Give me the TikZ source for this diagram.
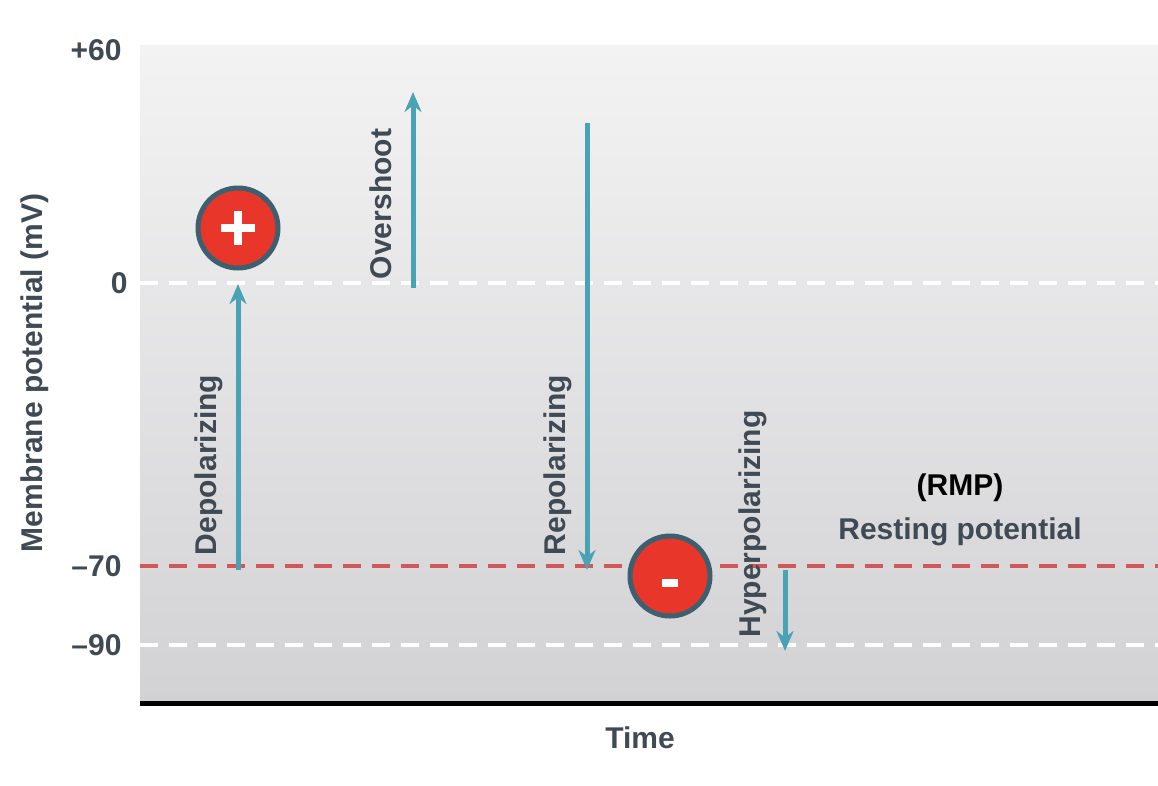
\documentclass[tikz,border=0pt]{standalone}
\usepackage{fontspec}
\setmainfont{Liberation Sans}
\usetikzlibrary{arrows.meta}
\definecolor{txt}{HTML}{3F4A55}
\definecolor{arr}{HTML}{4AA3B5}
\definecolor{rmp}{HTML}{D0585A}
\definecolor{cfill}{HTML}{E8362A}
\definecolor{cedge}{HTML}{3D6070}
\begin{document}
\begin{tikzpicture}[x=1pt,y=-1pt,
 lbl/.style={font=\fontsize{30}{34}\selectfont\bfseries,text=txt},
 tick/.style={lbl,anchor=east},
 ar/.style={draw=arr,line width=5pt,-{Stealth[length=20pt,width=17pt]}},
 sign/.style={circle,minimum size=80pt,fill=cfill,draw=cedge,line width=5pt,inner sep=0pt},
 signmark/.style={white,line width=8pt},
 dsh/.style={line width=4pt,dash pattern=on 18pt off 11pt}]
\useasboundingbox (0,0) rectangle (1158,785);
\shade[top color={rgb,255:red,243;green,243;blue,244},bottom color={rgb,255:red,210;green,210;blue,212}] (140,45) rectangle (1158,703);
\draw[line width=5pt] (140,703) -- (1158,703);
\draw[dsh,white] (140,283) -- (1158,283);
\draw[dsh,white] (140,645) -- (1158,645);
\draw[dsh,rmp] (140,566) -- (1158,566);
\node[tick] (t60) at (125,50) {+60};
\node[tick] (t0) at (131,283) {0};
\node[tick] (t70) at (125,566) {–70};
\node[tick] (t90) at (125,645) {–90};
\node[lbl,rotate=90] (ylab) at (35,373) {Membrane potential (mV)};
\node[lbl] (time) at (640,738) {Time};
\coordinate (d0) at (238,570); \coordinate (d1) at (238,284);
\coordinate (o0) at (413,288); \coordinate (o1) at (413,92);
\coordinate (r0) at (587,123); \coordinate (r1) at (587,570);
\coordinate (h0) at (785,570); \coordinate (h1) at (785,651);
\draw[ar] (d0) -- (d1);
\draw[ar] (o0) -- (o1);
\draw[ar] (r0) -- (r1);
\draw[ar] (h0) -- (h1);
\node[lbl,rotate=90] (ld) at (209,465) {Depolarizing};
\node[lbl,rotate=90] (lo) at (381,204) {Overshoot};
\node[lbl,rotate=90] (lr) at (558,465) {Repolarizing};
\node[lbl,rotate=90] (lh) at (753,524) {Hyperpolarizing};
\node[sign] (plus) at (238,228) {};
\draw[signmark] ([xshift=-17pt]plus.center) -- ([xshift=17pt]plus.center);
\draw[signmark] ([yshift=-17pt]plus.center) -- ([yshift=17pt]plus.center);
\node[sign] (minus) at (670,576) {};
\draw[signmark] ([xshift=-8pt,yshift=-7pt]minus.center) -- ([xshift=8pt,yshift=-7pt]minus.center);
\node[lbl,text=black] (rmpl) at (960,488) {(RMP)};
\node[lbl] (rest) at (960,532) {Resting potential};
\end{tikzpicture}
\end{document}
